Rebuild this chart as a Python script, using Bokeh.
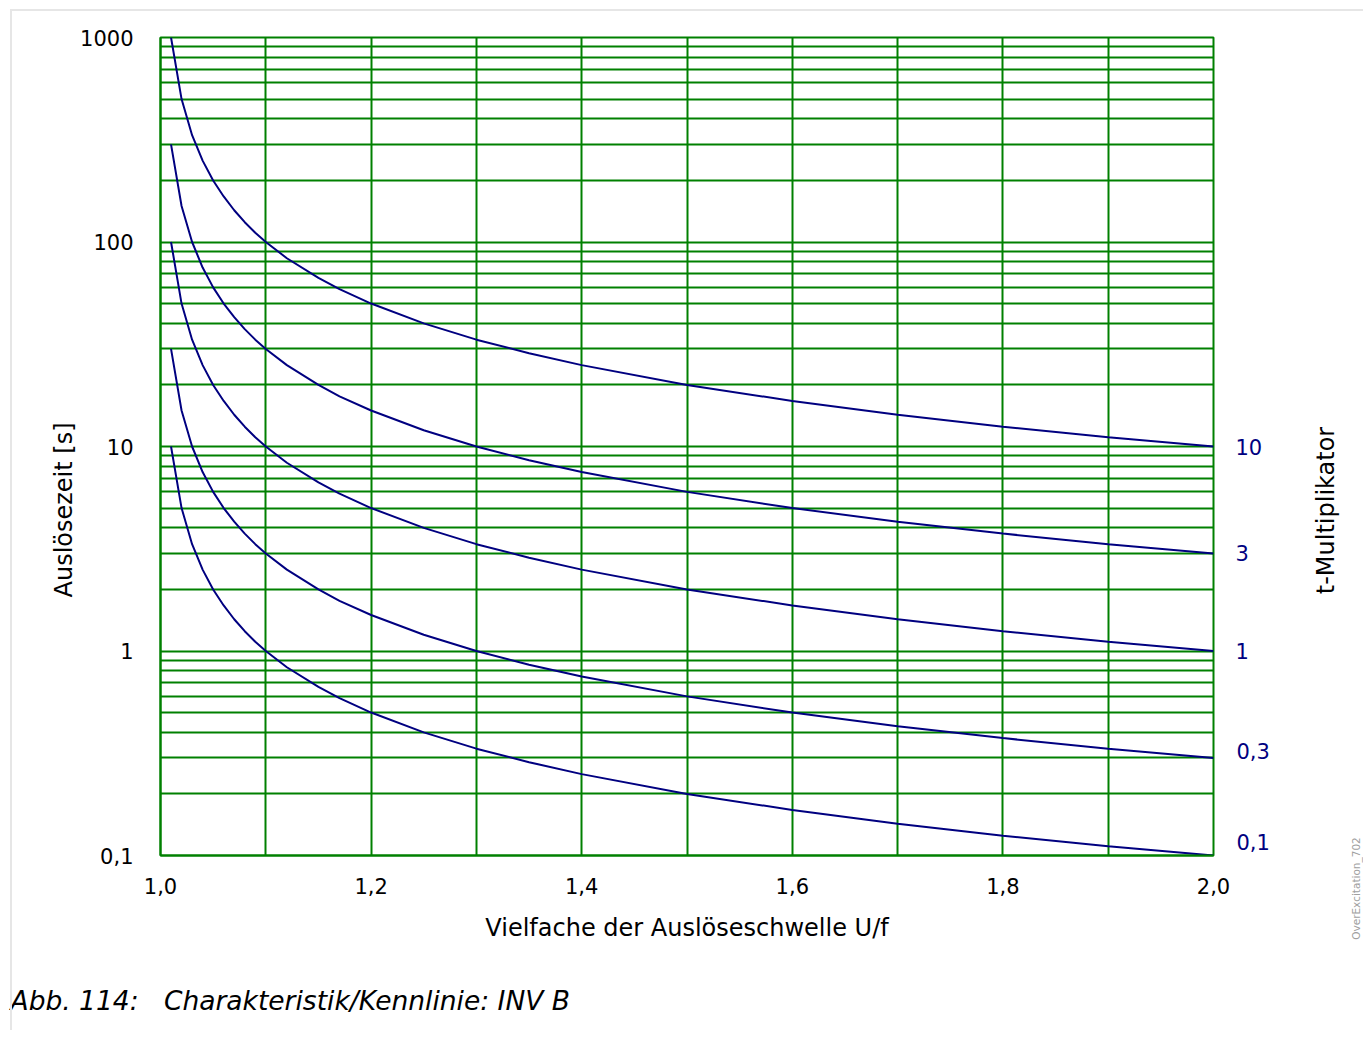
import math
from bokeh.plotting import figure
from bokeh.models import (FixedTicker, CustomJSTickFormatter, Range1d, LogAxis,
                          Title, Label, InlineStyleSheet)
from bokeh.embed import file_html
from bokeh.resources import INLINE

# ---- data ----
multiple = [1.01, 1.02, 1.03, 1.04, 1.05, 1.06, 1.07, 1.08, 1.09, 1.10, 1.12, 1.15,
            1.17, 1.20, 1.25, 1.30, 1.35, 1.40, 1.50, 1.60, 1.70, 1.80, 1.90, 2.00]
t_k10 = [1000, 500, 333, 250, 200, 167, 143, 125, 111, 100, 83.3, 66.7,
         58.8, 50, 40, 33.3, 28.6, 25, 20, 16.7, 14.3, 12.5, 11.1, 10]
t_k3 = [300, 150, 100, 75, 60, 50, 42.9, 37.5, 33.3, 30, 25, 20,
        17.6, 15, 12, 10, 8.57, 7.5, 6, 5, 4.29, 3.75, 3.33, 3]
t_k1 = [100, 50, 33.3, 25, 20, 16.7, 14.3, 12.5, 11.1, 10, 8.33, 6.67,
        5.88, 5, 4, 3.33, 2.86, 2.5, 2, 1.67, 1.43, 1.25, 1.11, 1]
t_k03 = [30, 15, 10, 7.5, 6, 5, 4.29, 3.75, 3.33, 3, 2.5, 2,
         1.76, 1.5, 1.2, 1, 0.857, 0.75, 0.6, 0.5, 0.429, 0.375, 0.333, 0.3]
t_k01 = [10, 5, 3.33, 2.5, 2, 1.67, 1.43, 1.25, 1.11, 1, 0.833, 0.667,
         0.588, 0.5, 0.4, 0.333, 0.286, 0.25, 0.2, 0.167, 0.143, 0.125, 0.111, 0.1]
series = [t_k10, t_k3, t_k1, t_k03, t_k01]
mult_upper = [10, 3, 1]          # labelled on the right axis
mult_lower_labels = ["0,3", "0,1"]  # labelled just above their curve ends

x_major = [1.0, 1.2, 1.4, 1.6, 1.8, 2.0]
x_minor = [1.1, 1.3, 1.5, 1.7, 1.9]
y_major = [0.1, 1, 10, 100, 1000]
y_minor = [m * d for d in [0.1, 1, 10, 100] for m in range(2, 10)]

GREEN = "#008000"
NAVY = "#000080"
FONT = "DejaVu Sans"

p = figure(frame_width=1053, frame_height=818, y_axis_type="log",
           x_range=Range1d(1.0, 2.0), y_range=Range1d(0.1, 1000),
           output_backend="svg", toolbar_location=None,
           min_border_left=160, min_border_right=150,
           min_border_top=37, min_border_bottom=175)
p.background_fill_color = "white"
p.border_fill_color = "white"
p.outline_line_color = GREEN
p.outline_line_width = 2

# grids
p.xgrid.ticker = FixedTicker(ticks=x_major, minor_ticks=x_minor)
p.ygrid.ticker = FixedTicker(ticks=y_major, minor_ticks=y_minor)
for g in (p.xgrid, p.ygrid):
    g.grid_line_color = GREEN
    g.grid_line_width = 2
    g.minor_grid_line_color = GREEN
    g.minor_grid_line_width = 2

# right axis carrying the multiplier labels
rax = LogAxis(ticker=FixedTicker(ticks=mult_upper))
p.add_layout(rax, "right")

# axes
p.xaxis.ticker = FixedTicker(ticks=x_major)
p.yaxis[0].ticker = FixedTicker(ticks=y_major)
p.xaxis.formatter = CustomJSTickFormatter(code="return tick.toFixed(1).replace('.', ',');")
for ax in (p.yaxis[0], rax):
    ax.formatter = CustomJSTickFormatter(code="return String(tick).replace('.', ',');")
for ax in (p.xaxis[0], p.yaxis[0], rax):
    ax.axis_line_color = GREEN
    ax.axis_line_width = 2
    ax.major_tick_line_color = None
    ax.minor_tick_line_color = None
    ax.major_label_text_font = FONT
    ax.major_label_text_font_size = "21px"
    ax.major_label_text_color = "black"
rax.axis_line_color = None
rax.major_label_text_color = NAVY
rax.major_label_standoff = 16

p.xaxis.major_label_standoff = 16
p.yaxis[0].major_label_standoff = 21
p.xaxis.axis_label = "Vielfache der Auslöseschwelle U/f"
p.xaxis.axis_label_text_font = FONT
p.xaxis.axis_label_text_font_size = "24px"
p.xaxis.axis_label_text_font_style = "normal"
p.xaxis.axis_label_text_color = "black"
p.xaxis.axis_label_standoff = 17

# curves
for ys in series:
    p.line(multiple, ys, line_color=NAVY, line_width=2)

# y axis title (offset from the bottom of the frame)
p.add_layout(Title(text="Auslösezeit [s]", align="left", offset=258, standoff=0,
                   text_font=FONT, text_font_size="24px", text_font_style="normal",
                   text_color="black"), "left")

# texts placed in the side panels at canvas positions
p.add_layout(Label(x=1325, y=510, x_units="canvas", y_units="canvas",
                   text="t-Multiplikator", angle=math.pi / 2,
                   text_font=FONT, text_font_size="24px", text_color="black",
                   text_align="center", text_baseline="middle"), "right")
p.add_layout(Label(x=1355, y=888, x_units="canvas", y_units="canvas",
                   text="OverExcitation_702", angle=math.pi / 2,
                   text_font=FONT, text_font_size="10.5px", text_color="#a0a0a0",
                   text_align="center", text_baseline="middle"), "right")
for txt, ly in zip(mult_lower_labels, [750, 841]):
    p.add_layout(Label(x=1236, y=ly, x_units="canvas", y_units="canvas", text=txt,
                       text_font=FONT, text_font_size="21px", text_color=NAVY,
                       text_align="left", text_baseline="middle"), "below")
p.add_layout(Label(x=10, y=1000, x_units="canvas", y_units="canvas",
                   text="Abb. 114:\u00a0\u00a0\u00a0Charakteristik/Kennlinie: INV B",
                   text_font=FONT, text_font_size="26.5px", text_font_style="italic",
                   text_color="black", text_align="left", text_baseline="middle"), "below")

# faint page frame (top and left lines)
p.stylesheets = [InlineStyleSheet(css=(
    ":host { position: relative; }"
    ":host::after { content: ''; position: absolute; left: 10px; top: 9px; right: 0; bottom: 0;"
    " border-top: 2px solid #e6e6e6; border-left: 2px solid #e6e6e6; pointer-events: none; z-index: 5; }"
))]

open("out.html", "w").write(file_html(p, INLINE))
